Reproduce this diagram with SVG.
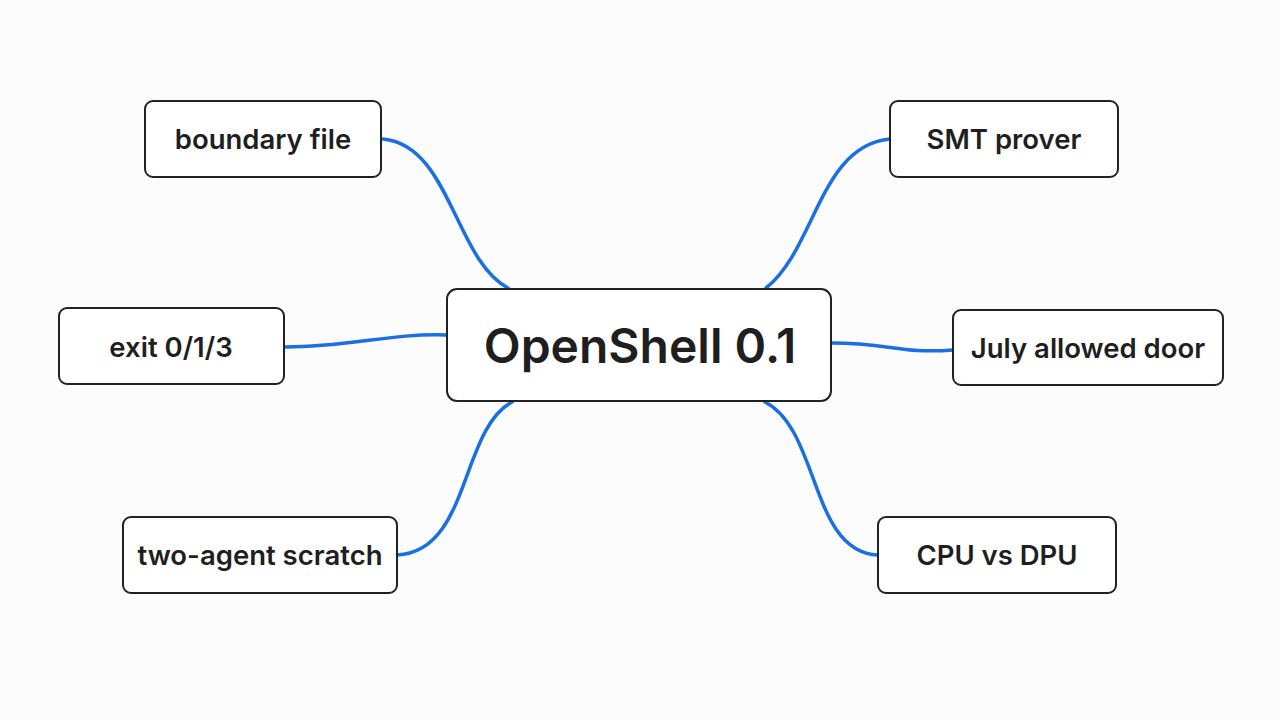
<svg xmlns="http://www.w3.org/2000/svg" width="1280" height="720" viewBox="0 0 1280 720">
<style>
.n rect{fill:#fff;stroke:#222;stroke-width:2}
.n text{font-family:"Inter","Liberation Sans",sans-serif;font-weight:600;font-size:27.5px;fill:#1f1f1f;text-anchor:middle;dominant-baseline:central}
#center text{font-size:48px}
.c path{fill:none;stroke:#1a6fe3;stroke-width:3.5;stroke-linecap:round}
</style>
<rect width="1280" height="720" fill="#fcfcfc"/>
<g class="c" id="connectors">
<path d="M383,139 C450,145 455,260 508,288"/>
<path d="M890,139 C820,145 815,250 766,288"/>
<path d="M286,347 C350,347 390,333 447,335"/>
<path d="M831,343 C890,343 900,354 953,350"/>
<path d="M397,555 C470,552 460,430 512,402"/>
<path d="M878,555 C810,552 820,430 765,402"/>
</g>
<g class="n" id="center"><rect x="447" y="289" width="384" height="112" rx="10"/><text x="640" y="345">OpenShell 0.1</text></g>
<g class="n" id="n1"><rect x="145" y="101" width="236" height="76" rx="8"/><text x="263" y="139">boundary file</text></g>
<g class="n" id="n2"><rect x="890" y="101" width="228" height="76" rx="8"/><text x="1004" y="139">SMT prover</text></g>
<g class="n" id="n3"><rect x="59" y="308" width="225" height="76" rx="8"/><text x="171" y="347">exit 0/1/3</text></g>
<g class="n" id="n4"><rect x="953" y="310" width="270" height="75" rx="8"/><text x="1088" y="348">July allowed door</text></g>
<g class="n" id="n5"><rect x="123" y="517" width="274" height="76" rx="8"/><text x="260" y="555">two-agent scratch</text></g>
<g class="n" id="n6"><rect x="878" y="517" width="238" height="76" rx="8"/><text x="997" y="555">CPU vs DPU</text></g>
</svg>
